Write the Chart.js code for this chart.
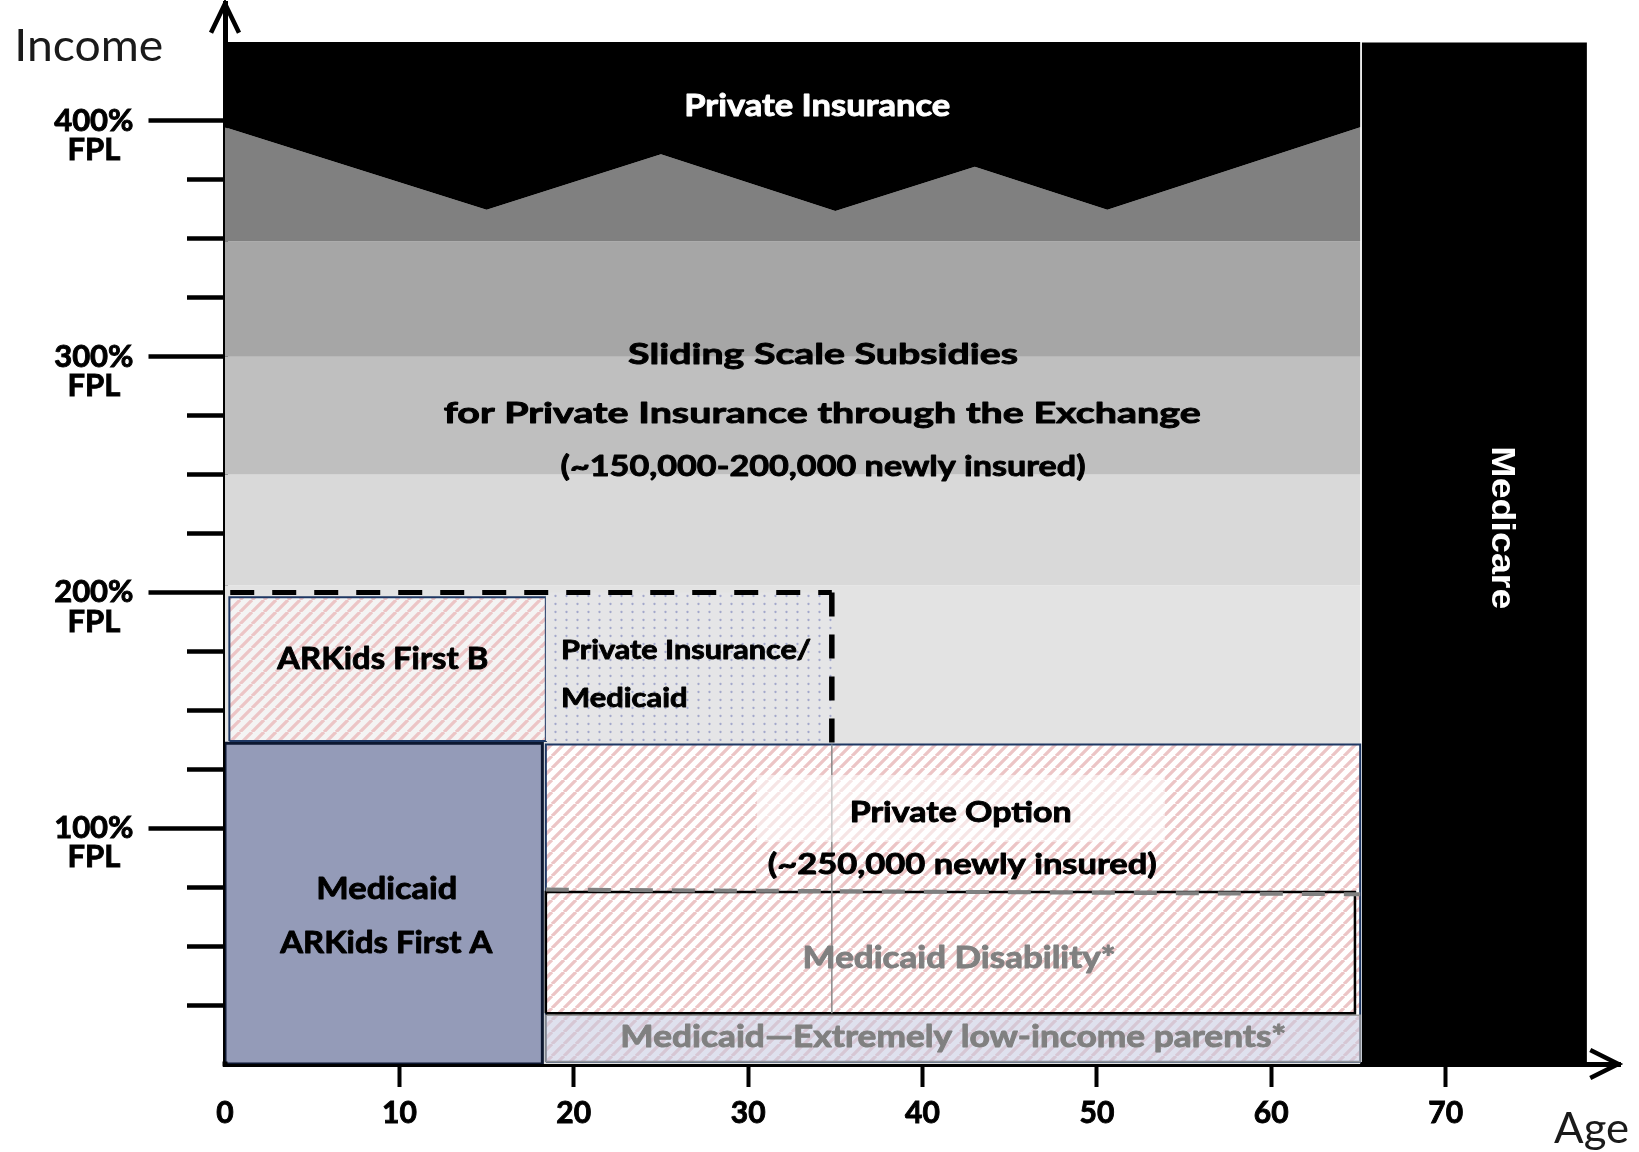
<!DOCTYPE html>
<html>
<head>
<meta charset="utf-8">
<script src="https://cdn.jsdelivr.net/npm/chart.js@4.4.1/dist/chart.umd.min.js"></script>
<style>
html, body { margin: 0; padding: 0; background: #ffffff; }
#wrap { width: 1639px; height: 1152px; position: relative; }
</style>
</head>
<body>
<div id="wrap"><canvas id="c"></canvas></div>
<script>
// ---------------- data ----------------
const ageTicks = [0, 10, 20, 30, 40, 50, 60, 70];
const incomeTicks = [100, 200, 300, 400];
const incomeTickLabels = ['100%', '200%', '300%', '400%'];
const incomeTickUnit = 'FPL';

// upper edge of the subsidy area (age, %FPL)
const zigzagAges = [0, 15, 25, 35, 43, 50.6, 65.1];
const zigzagIncome = [397.3, 362.3, 385.8, 361.8, 380.5, 362.3, 397.3];
const privateInsuranceTop = 433.5;
const exchangeAgeTo = 65.1;

// subsidy bands (%FPL)
const bandIncomeFrom = [0, 203, 250, 300];
const bandIncomeTo = [203, 250, 300, 349];

// program boxes
const programNames = ['Medicare', 'Medicaid ARKids First A', 'ARKids First B', 'Private Insurance/Medicaid',
  'Private Option', 'Medicaid—Extremely low-income parents*', 'Medicaid Disability*'];
const programAgeFrom = [65.2, 0, 0.25, 18.4, 18.4, 18.4, 18.4];
const programAgeTo = [78.1, 18.2, 18.4, 34.8, 65.1, 65.1, 64.8];
const programIncomeFrom = [0, 0, 137, 137, 1, 1, 21.5];
const programIncomeTo = [433.2, 136, 198, 200, 135.5, 20.7, 73];

// limit lines
const kidsLimitAges = [0.3, 34.8];
const kidsLimitIncome = [200, 200];
const kidsAgeLimitAges = [34.8, 34.8];
const kidsAgeLimitIncome = [200, 136];
const disabilityLimitAges = [18.4, 65.1];
const disabilityLimitIncome = [74, 72];
const age35Ages = [34.8, 34.8];
const age35Income = [135.5, 21.5];

// ---------------- helpers ----------------
function pts(xs, ys) { return xs.map((v, i) => ({ x: v, y: ys[i] })); }
function rect(x1, x2, y1, y2) {
  return [{x: x1, y: y1}, {x: x1, y: y2}, {x: x2, y: y2}, {x: x2, y: y1}, {x: x1, y: y1}];
}
function stripePattern(bg) {
  const s = 12;
  const c = document.createElement('canvas');
  c.width = s; c.height = s;
  const g = c.getContext('2d');
  if (bg) { g.fillStyle = bg; g.fillRect(0, 0, s, s); }
  g.strokeStyle = '#ecc5c6';
  g.lineWidth = 3.3;
  g.beginPath();
  for (const k of [-1, 0, 1]) { g.moveTo(k * s, s); g.lineTo(k * s + s, 0); }
  g.stroke();
  return g.createPattern(c, 'repeat');
}
function dotPattern() {
  const c = document.createElement('canvas');
  c.width = 11; c.height = 8;
  const g = c.getContext('2d');
  g.fillStyle = '#e5e5e7'; g.fillRect(0, 0, 11, 8);
  g.fillStyle = '#a3a8cb';
  g.beginPath(); g.arc(5.5, 4, 1.15, 0, Math.PI * 2); g.fill();
  return g.createPattern(c, 'repeat');
}
const clear = 'rgba(0,0,0,0)';
function area(label, data, color, border, bw) {
  return { label, data, fill: 'shape', backgroundColor: color,
    borderColor: border || clear, borderWidth: bw || 0, pointRadius: 0, tension: 0 };
}
function line(label, data, color, width, dash) {
  return { label, data, fill: false, borderColor: color, borderWidth: width,
    borderDash: dash || [], pointRadius: 0, tension: 0, backgroundColor: clear };
}

// ---------------- datasets (bottom to top) ----------------
const bandColors = ['#e3e3e3', '#d9d9d9', '#bfbfbf', '#a6a6a6'];
const datasets = [];
bandIncomeFrom.forEach((f, i) => {
  datasets.push(area('Subsidy band ' + (i + 1), rect(0, exchangeAgeTo, f, bandIncomeTo[i]), bandColors[i]));
});
datasets.push(area('Subsidy top band',
  [{x: 0, y: bandIncomeTo[3]}].concat(pts(zigzagAges, zigzagIncome), [{x: exchangeAgeTo, y: bandIncomeTo[3]}, {x: 0, y: bandIncomeTo[3]}]),
  '#808080'));
datasets.push(area('Private Insurance',
  [{x: 0, y: privateInsuranceTop}, {x: exchangeAgeTo, y: privateInsuranceTop}]
    .concat(pts(zigzagAges, zigzagIncome).reverse(), [{x: 0, y: privateInsuranceTop}]),
  '#000000'));

const stripesLight = stripePattern('#f4f4f4');
const stripesWhite = stripePattern('#ffffff');
const programStyles = [
  { color: '#000000' },
  { color: '#949bb8', border: '#0c1730', bw: 3 },
  { color: stripesLight, border: '#1f3864', bw: 2 },
  { color: dotPattern() },
  { color: stripesWhite, border: '#1f3864', bw: 2 },
  { color: 'rgba(196,200,224,0.55)', border: 'rgba(150,150,150,0.9)', bw: 1.5 },
  { color: clear, border: '#000000', bw: 2.5, fill: false }
];
programNames.forEach((n, i) => {
  const st = programStyles[i];
  const ds = area(n, rect(programAgeFrom[i], programAgeTo[i], programIncomeFrom[i], programIncomeTo[i]),
    st.color, st.border, st.bw);
  if (st.fill === false) ds.fill = false;
  datasets.push(ds);
});
datasets.push(line('Age 35', pts(age35Ages, age35Income), '#8a8a8a', 1.5));
datasets.push(line('Disability limit', pts(disabilityLimitAges, disabilityLimitIncome), '#808080', 4, [23, 19]));
datasets.push(line('Kids income limit', pts(kidsLimitAges, kidsLimitIncome), '#000000', 5, [24, 18]));
datasets.push(line('Kids age limit', pts(kidsAgeLimitAges, kidsAgeLimitIncome), '#000000', 5.5, [24, 18]));
datasets.forEach((d, i) => { d.order = datasets.length - i; });

// ---------------- text + decorations ----------------
function fitText(ctx, str, px, py, capH, width, o) {
  o = o || {};
  const fam = o.family || 'Lato';
  const wt = o.weight || 'bold';
  const size = capH / (o.capRatio || 0.7165);
  ctx.save();
  ctx.font = wt + ' ' + size + 'px ' + fam;
  ctx.textAlign = o.align || 'center';
  ctx.textBaseline = 'alphabetic';
  const w0 = ctx.measureText(str).width;
  ctx.translate(px, py);
  if (o.rotate) ctx.rotate(o.rotate);
  ctx.scale(width / w0, 1);
  const col = o.color || '#000000';
  ctx.fillStyle = col;
  ctx.fillText(str, 0, 0);
  if (o.stroke !== 0) {
    ctx.strokeStyle = col;
    ctx.lineWidth = o.stroke || 0.9;
    ctx.lineJoin = 'round';
    ctx.strokeText(str, 0, 0);
  }
  ctx.restore();
}

const overlay = {
  id: 'overlay',
  afterDraw(chart) {
    const ctx = chart.ctx;
    const xs = chart.scales.x, ys = chart.scales.y;
    const X = v => xs.getPixelForValue(v);
    const Y = v => ys.getPixelForValue(v);
    ctx.save();
    ctx.fillStyle = '#000';
    ctx.fillRect(X(0) - 2.5, Y(0) - 2.5, 5, 5);
    ctx.strokeStyle = '#000';
    ctx.lineWidth = 4.5;
    ctx.lineJoin = 'miter';
    ctx.beginPath();
    const yt = Y(449.7);
    ctx.moveTo(X(0) - 14, yt + 29); ctx.lineTo(X(0), yt); ctx.lineTo(X(0) + 14, yt + 29);
    ctx.stroke();
    ctx.beginPath();
    const xt = X(79.9);
    ctx.moveTo(xt - 28, Y(0) - 14); ctx.lineTo(xt, Y(0)); ctx.lineTo(xt - 28, Y(0) + 14);
    ctx.stroke();
    ctx.fillStyle = 'rgba(255,255,255,0.55)';
    ctx.fillRect(X(30.5), Y(122.6), X(53.9) - X(30.5), Y(94.2) - Y(122.6));
    ctx.restore();

    const W = '#ffffff', G = '#808080';
    fitText(ctx, 'Income', X(-7.81), Y(425.5), 31.7, 149, { weight: 'normal', color: '#1a1a1a', stroke: 0 });
    fitText(ctx, 'Age', X(78.37), Y(-33.6), 30, 75, { weight: 'normal', color: '#1a1a1a', stroke: 0 });
    fitText(ctx, 'Private Insurance', X(33.96), Y(402.2), 21.5, 266, { color: W });
    fitText(ctx, 'Sliding Scale Subsidies', X(34.3), Y(296.9), 21, 390);
    fitText(ctx, 'for Private Insurance through the Exchange', X(34.25), Y(271.9), 21, 757);
    fitText(ctx, '(~150,000-200,000 newly insured)', X(34.3), Y(249.2), 20.5, 525);
    fitText(ctx, 'ARKids First B', X(9.05), Y(167.5), 22.5, 211);
    fitText(ctx, 'Private Insurance/', X(19.27), Y(171.8), 19.5, 250, { align: 'left' });
    fitText(ctx, 'Medicaid', X(19.27), Y(151.6), 19.5, 126.5, { align: 'left' });
    fitText(ctx, 'Medicaid', X(9.28), Y(69.9), 22.5, 141);
    fitText(ctx, 'ARKids First A', X(9.25), Y(47.1), 22, 212);
    fitText(ctx, 'Private Option', X(42.19), Y(102.8), 20.5, 222);
    fitText(ctx, '(~250,000 newly insured)', X(42.28), Y(80.6), 21, 389);
    fitText(ctx, 'Medicaid Disability*', X(42.1), Y(40.6), 21.6, 313, { color: G });
    fitText(ctx, 'Medicaid—Extremely low-income parents*', X(41.77), Y(7.34), 21.7, 666, { color: G });
    fitText(ctx, 'Medicare', X(72.65), Y(227.4), 23.3, 163,
      { family: '"Liberation Sans", Arial, sans-serif', capRatio: 0.716, color: W, rotate: Math.PI / 2, stroke: 0 });
  }
};

// ---------------- chart ----------------
Chart.defaults.font.family = 'Lato';
new Chart(document.getElementById('c'), {
  type: 'line',
  data: { datasets },
  options: {
    animation: false,
    responsive: true,
    maintainAspectRatio: false,
    devicePixelRatio: 1,
    events: [],
    layout: { padding: { left: 0, top: 3, right: 19, bottom: 0 }, autoPadding: false },
    plugins: { legend: { display: false }, tooltip: { enabled: false } },
    scales: {
      x: {
        type: 'linear', min: 0, max: 80, position: 'bottom', z: 1,
        afterFit: s => { s.height = 88; s.paddingLeft = 0; s.paddingRight = 0; s.paddingTop = 0; s.paddingBottom = 0; },
        border: { display: true, color: '#000', width: 5 },
        grid: {
          display: true, drawOnChartArea: false, drawTicks: true, tickLength: 23, tickWidth: 4,
          tickColor: c => (c.tick && c.tick.value > 0 && ageTicks.includes(c.tick.value)) ? '#000' : clear
        },
        ticks: {
          stepSize: 10, autoSkip: false, maxRotation: 0, padding: 8, color: '#000',
          textStrokeColor: '#000', textStrokeWidth: 0.9,
          font: { family: 'Lato', weight: 'bold', size: 30 },
          callback: v => ageTicks.includes(v) ? String(v) : ''
        }
      },
      y: {
        type: 'linear', min: 0, max: 450, position: 'left', z: 1,
        afterFit: s => { s.width = 225; s.paddingTop = 0; s.paddingBottom = 0; s.paddingLeft = 0; s.paddingRight = 0; },
        border: { display: true, color: '#000', width: 5 },
        grid: {
          display: true, drawOnChartArea: false, drawTicks: true, tickLength: 76.5, tickWidth: 4.5,
          tickColor: c => (c.tick && c.tick.value > 0 && c.tick.value <= 400) ? '#000' : clear,
          tickBorderDash: c => (c.tick && incomeTicks.includes(c.tick.value)) ? [] : [0, 38.5, 40, 0]
        },
        ticks: {
          stepSize: 25, maxTicksLimit: 100, autoSkip: false, crossAlign: 'center', padding: 15, color: '#000',
          textStrokeColor: '#000', textStrokeWidth: 0.9,
          font: { family: 'Lato', weight: 'bold', size: 31, lineHeight: 0.94 },
          callback: v => {
            const i = incomeTicks.indexOf(v);
            return i >= 0 ? ['', incomeTickLabels[i], incomeTickUnit] : '';
          }
        }
      }
    }
  },
  plugins: [overlay]
});
</script>
</body>
</html>
